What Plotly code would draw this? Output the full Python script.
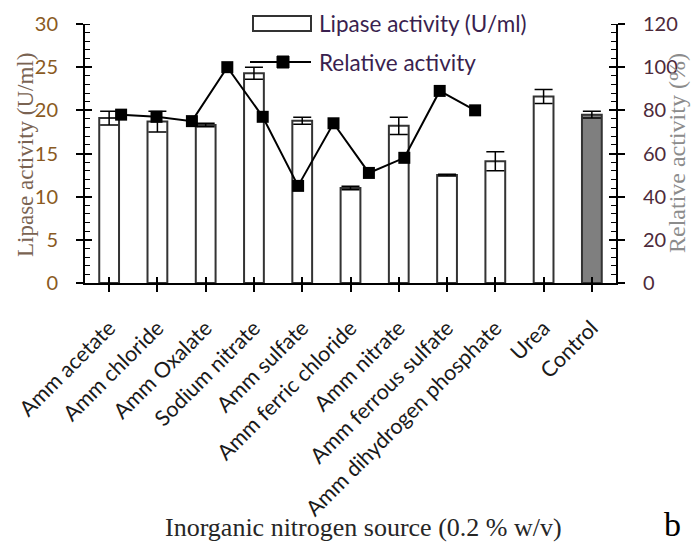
import plotly.graph_objects as go

categories = ["Amm acetate", "Amm chloride", "Amm Oxalate", "Sodium nitrate", "Amm sulfate",
              "Amm ferric chloride", "Amm nitrate", "Amm ferrous sulfate",
              "Amm dihydrogen phosphate", "Urea", "Control"]
lipase = [19.1, 18.7, 18.3, 24.3, 18.8, 11.0, 18.2, 12.5, 14.1, 21.6, 19.5]
lipase_err = [0.8, 1.2, 0.2, 0.7, 0.4, 0.2, 1.0, 0.1, 1.1, 0.8, 0.4]
relative = [78, 77, 75, 100, 77, 45, 74, 51, 58, 89, 80]
relative_pos = [0, 1, 2, 3, 4, 5, 6, 7, 8, 9, 10]
bar_colors = ["white"] * 10 + ["#7f7f7f"]

W, H = 693, 548
L, R, T, B = 85, 77, 24, 265
pw, ph = W - L - R, H - T - B


def px(x):
    return (x - L) / pw


def py(y):
    return (H - B - y) / ph


tick_font_l = dict(family="Lato", size=20, color="#8a5a22")
tick_font_r = dict(family="Lato", size=20, color="#4d2a3a")

fig = go.Figure()
fig.add_trace(go.Bar(
    x=categories, y=lipase, width=0.41,
    marker=dict(color=bar_colors, line=dict(color="#333333", width=2)),
    error_y=dict(type="data", array=lipase_err, color="black", thickness=1.5, width=9),
    showlegend=False, xaxis="x", yaxis="y"))
fig.add_trace(go.Scatter(
    x=relative_pos, y=relative, mode="lines+markers",
    line=dict(color="black", width=2),
    marker=dict(symbol="square", size=12, color="black"),
    showlegend=False, xaxis="x2", yaxis="y2"))
# empty helper traces so the tick-mirror axes are drawn
fig.add_trace(go.Scatter(x=[], y=[], xaxis="x3", yaxis="y3", showlegend=False))
fig.add_trace(go.Scatter(x=[], y=[], xaxis="x3", yaxis="y4", showlegend=False))

fig.update_layout(
    width=W, height=H,
    margin=dict(l=L, r=R, t=T, b=B),
    paper_bgcolor="white", plot_bgcolor="white",
    bargap=0.5,
    xaxis=dict(type="category", categoryarray=categories, range=[-0.5, 10.5],
               showline=True, linecolor="black", linewidth=2, showgrid=False,
               ticks="outside", ticklen=7, tickwidth=1.5, tickcolor="black",
               tickangle=-45, ticklabelstandoff=15,
               tickfont=dict(family="Lato", size=21.5, color="#1a1a1a")),
    xaxis2=dict(overlaying="x", range=[-1.02, 13.98], visible=False),
    xaxis3=dict(overlaying="x", anchor="y", range=[-0.5, 10.5],
                tickvals=relative_pos, ticks="inside", ticklen=6, tickwidth=1.5,
                tickcolor="black", showticklabels=False, showline=False, showgrid=False,
                zeroline=False),
    yaxis=dict(range=[0, 30], dtick=5, showline=True, linecolor="black", linewidth=2,
               showgrid=False, zeroline=False,
               ticks="outside", ticklen=7, tickwidth=1.5, tickcolor="black",
               ticklabelstandoff=14, tickfont=tick_font_l,
               minor=dict(ticks="inside", dtick=1, ticklen=5, tickwidth=1, tickcolor="black")),
    yaxis2=dict(overlaying="y", side="right", anchor="x", range=[0, 120], dtick=20,
                showline=True, linecolor="black", linewidth=2, showgrid=False, zeroline=False,
                ticks="outside", ticklen=7, tickwidth=1.5, tickcolor="black",
                ticklabelstandoff=14, tickfont=tick_font_r,
                minor=dict(ticks="inside", dtick=4, ticklen=5, tickwidth=1, tickcolor="black")),
    yaxis3=dict(overlaying="y", side="left", anchor="x3", range=[0, 30], dtick=5,
                ticks="inside", ticklen=7, tickwidth=1.5, tickcolor="black",
                showticklabels=False, showline=False, showgrid=False, zeroline=False),
    yaxis4=dict(overlaying="y", side="right", anchor="x3", range=[0, 120], dtick=20,
                ticks="inside", ticklen=7, tickwidth=1.5, tickcolor="black",
                showticklabels=False, showline=False, showgrid=False, zeroline=False),
)

# legend (manual, matching the reference layout)
fig.add_shape(type="rect", xref="paper", yref="paper",
              x0=px(253), x1=px(311), y0=py(31), y1=py(16),
              line=dict(color="#333333", width=2), fillcolor="white")
fig.add_shape(type="line", xref="paper", yref="paper",
              x0=px(250), x1=px(311), y0=py(62), y1=py(62),
              line=dict(color="black", width=2))
fig.add_shape(type="rect", xref="paper", yref="paper",
              x0=px(277), x1=px(289), y0=py(68), y1=py(56),
              line=dict(color="black", width=1), fillcolor="black")

ann_font_leg = dict(family="Lato", size=22.5, color="#3a1f4f")
fig.add_annotation(xref="paper", yref="paper", x=px(317), y=py(23), text="Lipase activity (U/ml)",
                   showarrow=False, xanchor="left", yanchor="middle", font=ann_font_leg)
fig.add_annotation(xref="paper", yref="paper", x=px(317), y=py(62), text="Relative activity",
                   showarrow=False, xanchor="left", yanchor="middle", font=ann_font_leg)

fig.add_annotation(xref="paper", yref="paper", x=px(25), y=py(155), text="Lipase activity (U/ml)",
                   textangle=-90, showarrow=False, xanchor="center", yanchor="middle",
                   font=dict(family="Liberation Serif", size=23, color="#7a6352"))
fig.add_annotation(xref="paper", yref="paper", x=px(677), y=py(153), text="Relative activity (%)",
                   textangle=-90, showarrow=False, xanchor="center", yanchor="middle",
                   font=dict(family="Liberation Serif", size=24, color="#8c8c8c"))
fig.add_annotation(xref="paper", yref="paper", x=px(363), y=py(527),
                   text="Inorganic nitrogen source (0.2 % w/v)",
                   showarrow=False, xanchor="center", yanchor="middle",
                   font=dict(family="Liberation Serif", size=26, color="#262626"))
fig.add_annotation(xref="paper", yref="paper", x=px(672), y=py(524), text="b",
                   showarrow=False, xanchor="center", yanchor="middle",
                   font=dict(family="Liberation Serif", size=34, color="black"))

fig.write_html("out.html")
